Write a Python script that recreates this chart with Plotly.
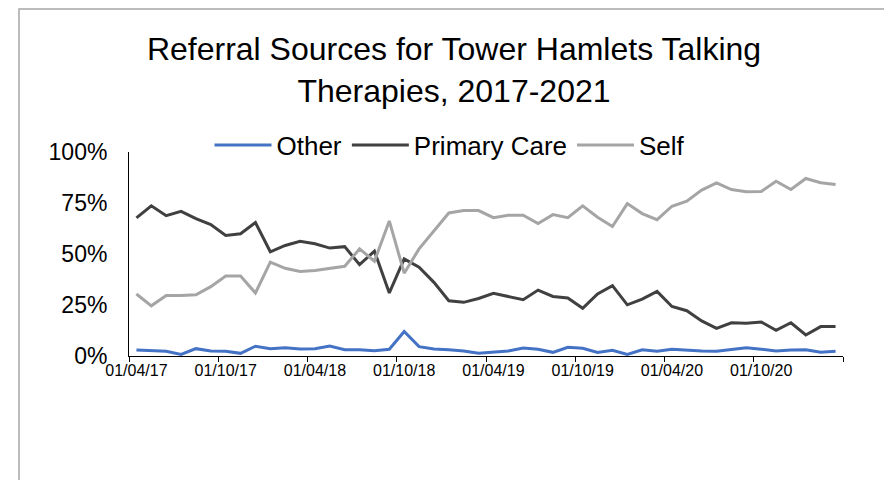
import plotly.graph_objects as go
import pandas as pd

# Monthly categories, April 2017 - March 2021
months = [d.strftime("%d/%m/%y") for d in pd.date_range("2017-04-01", periods=48, freq="MS")]
tick_labels = ["01/04/17", "01/10/17", "01/04/18", "01/10/18",
               "01/04/19", "01/10/19", "01/04/20", "01/10/20"]

other = [3.0, 2.6, 2.3, 0.8, 3.6, 2.5, 2.3, 1.3, 4.8, 3.6, 4.1, 3.4, 3.6, 4.9, 3.1, 3.1,
         2.6, 3.3, 12.0, 4.6, 3.4, 3.1, 2.5, 1.3, 1.8, 2.5, 3.9, 3.3, 1.8, 4.3, 3.8, 1.7,
         2.8, 0.8, 3.0, 2.3, 3.3, 2.8, 2.5, 2.3, 3.1, 4.1, 3.3, 2.5, 3.0, 3.1, 1.8, 2.3]
primary_care = [67.7, 73.6, 68.8, 70.9, 67.3, 64.4, 59.1, 59.9, 65.4, 51.1, 54.2, 56.2, 55.0, 52.9,
                53.6, 44.8, 51.4, 30.9, 47.6, 43.5, 36.1, 27.1, 26.3, 28.2, 30.7, 29.1, 27.6, 32.3,
                29.2, 28.4, 23.4, 30.4, 34.5, 25.1, 27.9, 31.7, 24.3, 22.2, 17.2, 13.5, 16.3, 16.1,
                16.7, 12.6, 16.3, 10.3, 14.4, 14.4]
self_ref = [30.4, 24.6, 29.6, 29.6, 30.0, 34.0, 39.2, 39.2, 30.9, 46.0, 43.0, 41.4, 41.9, 43.0,
            44.0, 52.5, 46.5, 66.2, 40.6, 52.5, 61.2, 70.1, 71.3, 71.3, 67.8, 69.0, 69.0, 64.9,
            69.3, 67.8, 73.6, 68.0, 63.5, 74.7, 69.8, 66.8, 73.4, 75.9, 81.3, 84.9, 81.6, 80.5,
            80.6, 85.7, 81.6, 87.0, 84.9, 84.1]

series = [("Other", other, "#4472C4"),
          ("Primary Care", primary_care, "#404040"),
          ("Self", self_ref, "#A5A5A5")]

x_idx = list(range(len(months)))

fig = go.Figure()
for name, vals, color in series:
    fig.add_trace(go.Scatter(
        x=x_idx, y=[v / 100 for v in vals], mode="lines", name=name,
        line=dict(color=color, width=3), customdata=months,
        hovertemplate="%{customdata}: %{y:.1%}<extra>" + name + "</extra>"))

OFF = 8  # page body margin
W, H = 892 - OFF, 480 - OFF
L = 129 - OFF
T = 152 - OFF
R = W - (843 - OFF)
B = H - (356 - OFF)
pw, ph = W - L - R, H - T - B

def px_x(px):  # reference screen px -> paper x
    return (px - OFF - L) / pw

def px_y(py):  # reference screen px -> paper y
    return (H - B - (py - OFF)) / ph

fig.update_layout(
    width=W, height=H,
    margin=dict(l=L, r=R, t=T, b=B, pad=0),
    paper_bgcolor="white", plot_bgcolor="white",
    font=dict(family="Liberation Sans, Arial, sans-serif", color="black"),
    title=dict(text="Referral Sources for Tower Hamlets Talking<br>Therapies, 2017-2021",
               x=px_x(454), xref="paper", xanchor="center",
               y=1 - 52 / H, yanchor="top", font=dict(size=32, color="black")),
    legend=dict(orientation="h", x=px_x(450), xanchor="center",
                y=px_y(145), yanchor="middle", itemwidth=57,
                font=dict(size=26, color="black"), bgcolor="rgba(0,0,0,0)"),
    showlegend=True,
    shapes=[dict(type="rect", xref="paper", yref="paper",
                 x0=px_x(19), x1=px_x(889),
                 y0=px_y(495), y1=px_y(9),
                 line=dict(color="#A6A6A6", width=1.5), fillcolor="rgba(0,0,0,0)", layer="below")],
)

fig.update_xaxes(
    range=[-0.5, len(months) - 0.5], showgrid=False, zeroline=False,
    showline=True, linecolor="black", linewidth=1,
    tickmode="array", tickvals=[i for i in x_idx if i % 6 == 0], ticktext=tick_labels,
    ticks="", tickfont=dict(size=16, color="black"),
    minor=dict(tickmode="array", tickvals=[i - 0.5 for i in range(0, len(months) + 1, 6)],
               ticks="outside", ticklen=5, tickcolor="black", tickwidth=1, showgrid=False),
)
fig.update_yaxes(
    range=[0, 1], showgrid=False, zeroline=False,
    showline=True, linecolor="black", linewidth=1,
    tickmode="array", tickvals=[0, 0.25, 0.5, 0.75, 1.0], tickformat=".0%",
    ticks="", tickfont=dict(size=23, color="black"), ticklabelstandoff=16,
)

fig.write_html("out.html")
